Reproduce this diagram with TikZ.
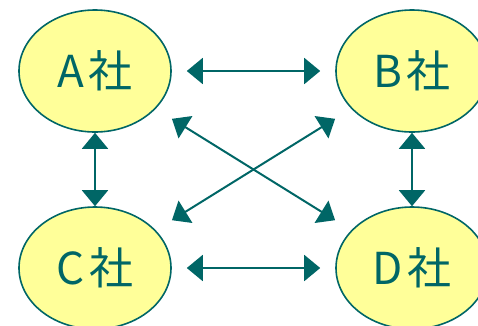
\documentclass[tikz,border=0pt]{standalone}
\usepackage{fontspec}
\newfontfamily\jpfont{Noto Sans CJK JP}
\usetikzlibrary{arrows.meta,shapes.geometric}
\definecolor{teal}{RGB}{0,102,102}
\definecolor{paleyellow}{RGB}{255,255,153}

\begin{document}
\begin{tikzpicture}[x=1pt, y=-1pt, >={Triangle[length=16pt, width=26pt]},
    company/.style={draw=teal, line width=1.6pt, fill=paleyellow, ellipse, inner sep=0pt,
        minimum width=152pt, minimum height=122pt, text=teal, font=\jpfont\fontsize{44pt}{44pt}\selectfont},
    link/.style={<->, draw=teal, line width=2pt}]
    \useasboundingbox (0,0) rectangle (478,325);
    \clip (0,0) rectangle (478,325);
    \node[company] (A) at (95,71) {A\hspace{5pt}社};
    \node[company] (B) at (412,71) {B\hspace{5pt}社};
    \node[company] (C) at (95,268) {C\hspace{5pt}社};
    \node[company] (D) at (412,268) {D\hspace{5pt}社};
    \draw[link, shorten <=15pt, shorten >=15pt] (A) -- (B);
    \draw[link, shorten <=15pt, shorten >=15pt] (C) -- (D);
    \draw[link] (A) -- (C);
    \draw[link] (B) -- (D);
    \draw[link, shorten <=19pt, shorten >=19pt] (A) -- (D);
    \draw[link, shorten <=19pt, shorten >=19pt] (C) -- (B);
\end{tikzpicture}
\end{document}
